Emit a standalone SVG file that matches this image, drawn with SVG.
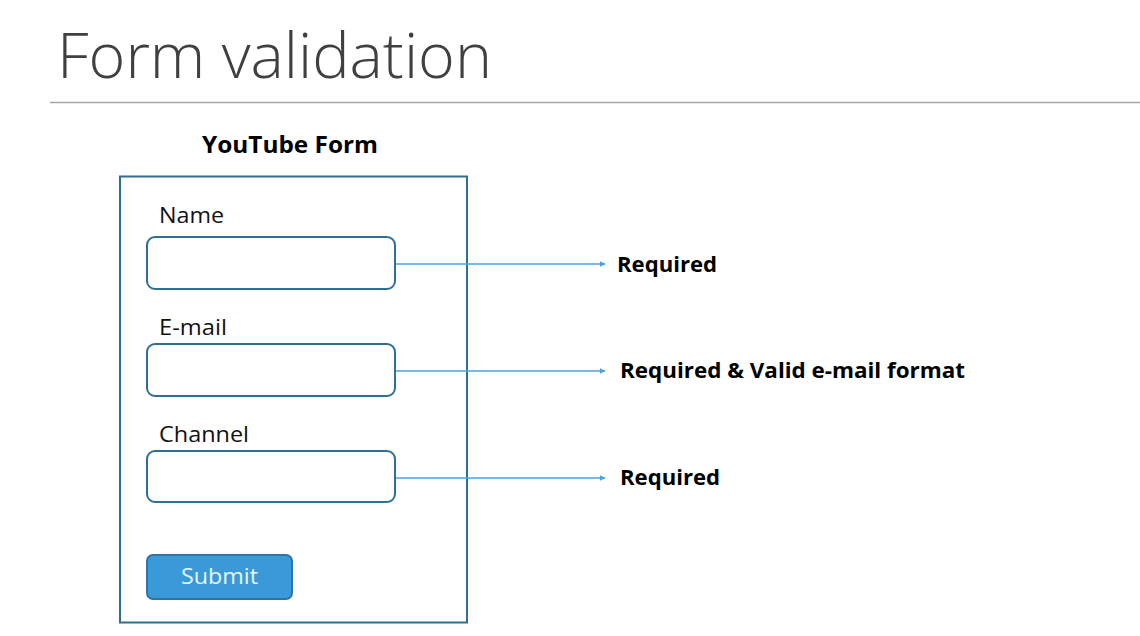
<svg xmlns="http://www.w3.org/2000/svg" width="1140" height="636" viewBox="0 0 1140 636">
<style>
.title{font-family:"Open Sans","Liberation Sans",sans-serif;font-weight:300;font-size:63px;fill:#404040}
.head{font-family:"Open Sans","Liberation Sans",sans-serif;font-weight:700;font-size:24px;fill:#000}
.lbl{font-family:"Open Sans","Liberation Sans",sans-serif;font-size:21px;fill:#111}
.rule{font-family:"Open Sans","Liberation Sans",sans-serif;font-weight:700;font-size:22px;fill:#000}
.input{fill:#fff;stroke:#2f6f93;stroke-width:2}
.conn{stroke:#4aa3df;stroke-width:1.5;fill:none}
</style>
<defs>
<marker id="arr" viewBox="0 0 10 10" refX="9" refY="5" markerWidth="6" markerHeight="6" markerUnits="userSpaceOnUse" orient="auto">
<path d="M0,0 L10,5 L0,10 z" fill="#4aa3df"/>
</marker>
</defs>
<rect width="1140" height="636" fill="#fff"/>
<g id="header">
<text class="title" x="57" y="78" textLength="435" lengthAdjust="spacingAndGlyphs">Form validation</text>
<line x1="50" y1="102.5" x2="1140" y2="102.5" stroke="#a6a6a6" stroke-width="1.5"/>
</g>
<g id="form">
<text class="head" x="290" y="153" text-anchor="middle" textLength="176" lengthAdjust="spacingAndGlyphs">YouTube Form</text>
<rect x="120" y="176.5" width="347" height="446" fill="none" stroke="#2f6f8f" stroke-width="2"/>
</g>
<g id="name-field">
<text class="lbl" x="159" y="223" textLength="65" lengthAdjust="spacingAndGlyphs">Name</text>
<rect class="input" x="147" y="237" width="248" height="52" rx="8"/>
</g>
<g id="email-field">
<text class="lbl" x="159" y="335" textLength="68" lengthAdjust="spacingAndGlyphs">E-mail</text>
<rect class="input" x="147" y="344" width="248" height="52" rx="8"/>
</g>
<g id="channel-field">
<text class="lbl" x="159" y="442" textLength="90" lengthAdjust="spacingAndGlyphs">Channel</text>
<rect class="input" x="147" y="451" width="248" height="51" rx="8"/>
</g>
<g id="submit">
<rect x="147" y="555" width="145" height="44" rx="6" fill="#3a9ad9" stroke="#2e75a5" stroke-width="2"/>
<text class="lbl" x="219.5" y="584" text-anchor="middle" style="fill:#e6f6ff" textLength="77" lengthAdjust="spacingAndGlyphs">Submit</text>
</g>
<g id="connectors">
<line class="conn" x1="396" y1="264" x2="605" y2="264" marker-end="url(#arr)"/>
<line class="conn" x1="396" y1="371" x2="605" y2="371" marker-end="url(#arr)"/>
<line class="conn" x1="396" y1="478" x2="605" y2="478" marker-end="url(#arr)"/>
</g>
<g id="rules">
<text class="rule" x="617" y="272" textLength="100" lengthAdjust="spacingAndGlyphs">Required</text>
<text class="rule" x="620" y="378" textLength="345" lengthAdjust="spacingAndGlyphs">Required &amp; Valid e-mail format</text>
<text class="rule" x="620" y="485" textLength="100" lengthAdjust="spacingAndGlyphs">Required</text>
</g>
</svg>
